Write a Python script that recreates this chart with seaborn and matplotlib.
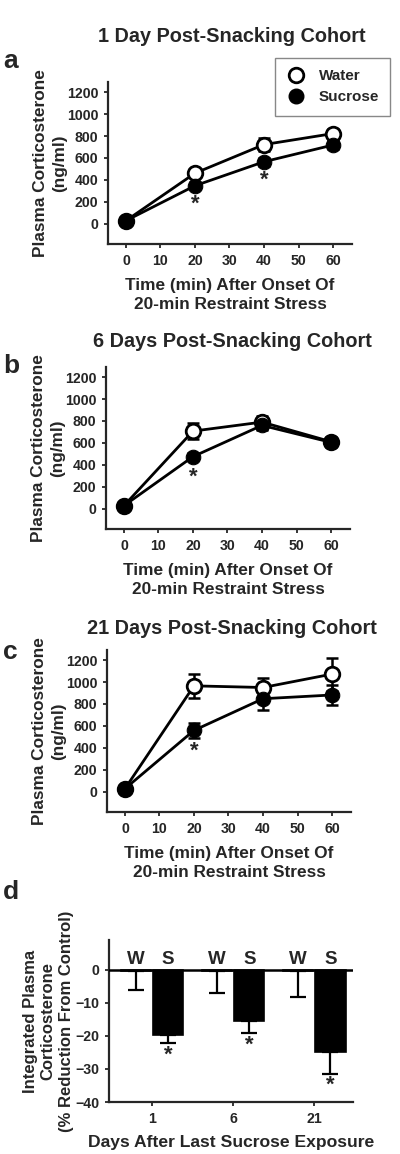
import numpy as np
import pandas as pd
import matplotlib
matplotlib.use("Agg")
import matplotlib.pyplot as plt
import seaborn as sns
from matplotlib.lines import Line2D

# time course data (ng/ml)
time = [0, 20, 40, 60]

a_water = [30, 462, 722, 822]
a_water_err = [20, 30, 60, 45]
a_sucrose = [30, 348, 566, 718]
a_sucrose_err = [20, 30, 35, 40]

b_water = [30, 708, 790, 612]
b_water_err = [20, 70, 60, 40]
b_sucrose = [30, 476, 760, 606]
b_sucrose_err = [20, 30, 40, 40]

c_water = [30, 965, 950, 1072]
c_water_err = [20, 110, 90, 150]
c_sucrose = [30, 560, 848, 882]
c_sucrose_err = [20, 70, 100, 90]

# significance markers (time, y position)
a_stars = [(20, 180), (40, 400)]
b_stars = [(20, 290)]
c_stars = [(20, 370)]

# integrated corticosterone (% reduction from control)
days = ["1", "6", "21"]
water_pct = [-0.3, -0.3, -0.3]
water_pct_err = [5.7, 6.7, 7.9]
sucrose_pct = [-19.6, -15.6, -24.8]
sucrose_pct_err = [2.5, 3.5, 6.7]
pct_stars = [-25.8, -22.7, -34.8]

sns.set_style("ticks")
plt.rcParams["font.family"] = ["Liberation Sans", "DejaVu Sans"]
plt.rcParams["font.weight"] = "bold"

W, H = 400, 1154
fig = plt.figure(figsize=(W / 100, H / 100), dpi=100)


def box(left, right, top, bottom):
    return [left / W, 1 - bottom / H, (right - left) / W, (bottom - top) / H]


def time_panel(ax, water, water_err, sucrose, sucrose_err, stars, title, letter, ytop):
    ax.errorbar(time, water, yerr=water_err, fmt="none", ecolor="black",
                elinewidth=1.8, capsize=4.5, capthick=1.8, zorder=1)
    ax.errorbar(time, sucrose, yerr=sucrose_err, fmt="none", ecolor="black",
                elinewidth=1.8, capsize=4.5, capthick=1.8, zorder=1)
    sns.lineplot(x=time, y=water, ax=ax, color="black", linewidth=2.0,
                 marker="o", markersize=10.5, markerfacecolor="white",
                 markeredgecolor="black", markeredgewidth=2.0, zorder=2)
    sns.lineplot(x=time, y=sucrose, ax=ax, color="black", linewidth=2.0,
                 marker="o", markersize=10.5, markerfacecolor="black",
                 markeredgecolor="black", zorder=3)
    for sx, sy in stars:
        ax.text(sx, sy, "*", ha="center", va="center", fontsize=16, fontweight="bold")
    ax.set_xlim(-5.2, 65.5)
    ax.set_ylim(-182, 1291)
    ax.set_xticks([0, 10, 20, 30, 40, 50, 60])
    ax.set_yticks([0, 200, 400, 600, 800, 1000, 1200])
    ax.tick_params(labelsize=10.2, width=1.3, length=3, direction="out", pad=4)
    for lab in ax.get_xticklabels() + ax.get_yticklabels():
        lab.set_fontweight("bold")
    for s in ["left", "bottom"]:
        ax.spines[s].set_linewidth(1.6)
    sns.despine(ax=ax)
    ax.set_xlabel("Time (min) After Onset Of\n20-min Restraint Stress",
                  fontsize=12.4, fontweight="bold", linespacing=1.3, labelpad=7.5)
    ax.set_ylabel("Plasma Corticosterone\n(ng/ml)", fontsize=12.4,
                  fontweight="bold", linespacing=1.35, labelpad=0)
    fig.text(232 / W, 1 - ytop / H, title, ha="center", va="center",
             fontsize=14.3, fontweight="bold")
    fig.text(3 / W, 1 - (ytop + 24) / H, letter, ha="left", va="center",
             fontsize=19, fontweight="bold")


ax_a = fig.add_axes(box(108, 352, 82, 244))
time_panel(ax_a, a_water, a_water_err, a_sucrose, a_sucrose_err, a_stars,
           "1 Day Post-Snacking Cohort", "a", 37)

ax_b = fig.add_axes(box(106, 350, 367, 529))
time_panel(ax_b, b_water, b_water_err, b_sucrose, b_sucrose_err, b_stars,
           "6 Days Post-Snacking Cohort", "b", 342)

ax_c = fig.add_axes(box(107, 351, 650, 812))
time_panel(ax_c, c_water, c_water_err, c_sucrose, c_sucrose_err, c_stars,
           "21 Days Post-Snacking Cohort", "c", 628)

handles = [
    Line2D([], [], linestyle="none", marker="o", markersize=10.5,
           markerfacecolor="white", markeredgecolor="black", markeredgewidth=2.0),
    Line2D([], [], linestyle="none", marker="o", markersize=10.5,
           markerfacecolor="black", markeredgecolor="black"),
]
leg = fig.legend(handles, ["Water", "Sucrose"], loc="upper left",
                 bbox_to_anchor=(275 / W, 1 - 58 / H), frameon=True,
                 fancybox=False, edgecolor="#888888", framealpha=1,
                 prop={"size": 11, "weight": "bold"}, handletextpad=0.9,
                 labelspacing=0.45, borderpad=0.75, handlelength=1.2,
                 borderaxespad=0)
leg.get_frame().set_linewidth(1.0)

# panel d: bar chart
ax_d = fig.add_axes(box(109, 353, 940, 1102))
bars = pd.DataFrame({
    "day": days * 2,
    "group": ["W"] * 3 + ["S"] * 3,
    "pct": water_pct + sucrose_pct,
})
sns.barplot(data=bars, x="day", y="pct", hue="group", order=days,
            hue_order=["W", "S"], palette={"W": "white", "S": "black"},
            edgecolor="black", linewidth=1.2, width=0.8, gap=0.06,
            errorbar=None, legend=False, ax=ax_d)
xpos = np.arange(len(days))
ax_d.errorbar(xpos - 0.2, np.array(water_pct), yerr=[np.array(water_pct_err), np.zeros(3)],
              fmt="none", ecolor="black", elinewidth=1.6, capsize=5.5, capthick=1.6, zorder=0.5)
ax_d.errorbar(xpos + 0.2, np.array(sucrose_pct), yerr=[np.array(sucrose_pct_err), np.zeros(3)],
              fmt="none", ecolor="black", elinewidth=1.6, capsize=5.5, capthick=1.6, zorder=0.5)
ax_d.axhline(0, color="black", linewidth=1.8, zorder=3)
for i in range(len(days)):
    ax_d.text(i - 0.2, 3.0, "W", ha="center", va="center", fontsize=13.5, fontweight="bold")
    ax_d.text(i + 0.2, 3.0, "S", ha="center", va="center", fontsize=13.5, fontweight="bold")
    ax_d.text(i + 0.2, pct_stars[i], "*", ha="center", va="center",
              fontsize=16, fontweight="bold")
ax_d.set_xlim(-0.53, 2.48)
ax_d.set_ylim(-40, 9)
ax_d.set_yticks([0, -10, -20, -30, -40])
ax_d.tick_params(labelsize=10.2, width=1.3, length=3, direction="out", pad=4)
for lab in ax_d.get_xticklabels() + ax_d.get_yticklabels():
    lab.set_fontweight("bold")
for s in ["left", "bottom"]:
    ax_d.spines[s].set_linewidth(1.6)
sns.despine(ax=ax_d)
ax_d.set_xlabel("Days After Last Sucrose Exposure", fontsize=12.6,
                fontweight="bold", labelpad=7)
ax_d.set_ylabel("Integrated Plasma\nCorticosterone\n(% Reduction From Control)",
                fontsize=12, fontweight="bold", linespacing=1.25, labelpad=1)
fig.text(3 / W, 1 - 892 / H, "d", ha="left", va="center", fontsize=19, fontweight="bold")

fig.savefig("out.png", dpi=100)
